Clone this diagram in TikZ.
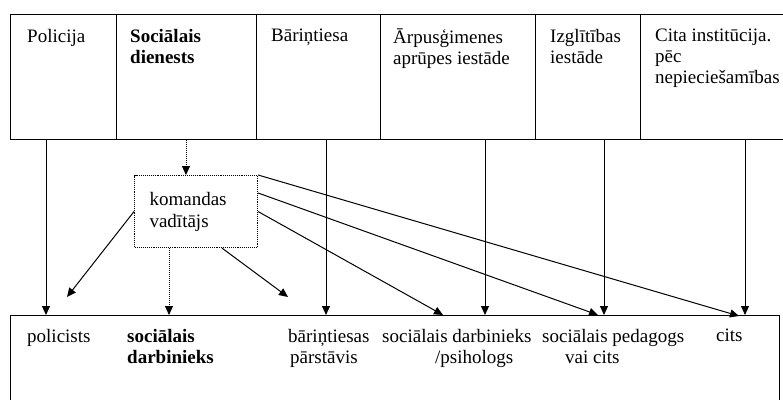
\documentclass[tikz,border=0pt]{standalone}
\usepackage{fontspec}
\setmainfont{Liberation Serif}
\usetikzlibrary{arrows.meta}

\begin{document}
\begin{tikzpicture}[x=1pt,y=-1pt,
    cell/.style={draw, line width=1.1pt, minimum height=125pt, anchor=north west, inner sep=0pt},
    txt/.style={anchor=north west, inner sep=0pt, align=left, font=\fontsize{19}{21}\selectfont},
    arr/.style={-{Triangle[length=9pt,width=8pt]}, line width=1pt}]
    \useasboundingbox (0,0) rectangle (783,399);
    % upper row of institutions
    \node[cell, minimum width=106pt] (policija) at (10,14) {};
    \node[cell, minimum width=140pt] (socdien) at (116,14) {};
    \node[cell, minimum width=124pt] (barint) at (256,14) {};
    \node[cell, minimum width=155pt] (arpus) at (380,14) {};
    \node[cell, minimum width=105pt] (izgl) at (535,14) {};
    \node[cell, minimum width=160pt] (cita) at (640,14) {};
    \node[txt] (policijaT) at ([shift={(17,15)}]policija.north west) {Policija};
    \node[txt] (socdienT) at ([shift={(14,15)}]socdien.north west) {\textbf{Sociālais}\\\textbf{dienests}};
    \node[txt] (barintT) at ([shift={(15,15)}]barint.north west) {Bāriņtiesa};
    \node[txt] (arpusT) at ([shift={(13,15)}]arpus.north west) {Ārpusģimenes\\aprūpes iestāde};
    \node[txt] (izglT) at ([shift={(15,15)}]izgl.north west) {Izglītības\\iestāde};
    \node[txt] (citaT) at ([shift={(15,15)}]cita.north west) {Cita institūcija.\\pēc\\nepieciešamības};
    % team leader
    \node[draw, densely dotted, line width=1.1pt, anchor=north west, minimum height=72pt,
          text width=93pt, inner xsep=15pt, inner ysep=0pt, align=left,
          font=\fontsize{19}{22}\selectfont] (komandas) at (134,175) {komandas\\vadītājs};
    % lower row of team members
    \node[cell, minimum width=769pt, minimum height=100pt] (lower) at (10,315) {};
    \node[txt] (policists) at ([shift={(17,14)}]lower.north west) {policists};
    \node[txt] (socdarb) at ([shift={(117,14)}]lower.north west) {\textbf{sociālais}\\\textbf{darbinieks}};
    \node[txt] (barpar) at ([shift={(278,14)}]lower.north west) {bāriņtiesas\\\hspace*{2pt}pārstāvis};
    \node[txt] (psih) at ([shift={(372,14)}]lower.north west) {sociālais darbinieks\\\hspace*{53pt}/psihologs};
    \node[txt] (pedag) at ([shift={(532,14)}]lower.north west) {sociālais pedagogs\\\hspace*{23pt}vai cits};
    \node[txt] (cits) at ([shift={(706,14)}]lower.north west) {cits};
    % start points
    \coordinate (a1) at ([xshift=36pt]policija.south west);
    \coordinate (a2) at ([xshift=70pt]socdien.south west);
    \coordinate (a3) at ([xshift=70pt]barint.south west);
    \coordinate (a4) at ([xshift=105pt]arpus.south west);
    \coordinate (a5) at ([xshift=69pt]izgl.south west);
    \coordinate (a6) at ([xshift=105pt]cita.south west);
    \coordinate (k2) at ([xshift=35pt]komandas.south west);
    \coordinate (k3) at ([xshift=88pt]komandas.south west);
    \coordinate (k5) at ([yshift=-18pt]komandas.north east);
    % free ends
    \coordinate (e1) at (67,297);
    \coordinate (e3) at (288,297);
    \coordinate (e4) at (443,315);
    \coordinate (e5) at (598,315);
    \coordinate (e6) at (739,316);
    % arrows
    \draw[arr] (a1) -- (a1 |- lower.north);
    \draw[arr, densely dotted] (a2) -- (a2 |- komandas.north);
    \draw[arr] (a3) -- (a3 |- lower.north);
    \draw[arr] (a4) -- (a4 |- lower.north);
    \draw[arr] (a5) -- (a5 |- lower.north);
    \draw[arr] (a6) -- (a6 |- lower.north);
    \draw[arr] (komandas.west) -- (e1);
    \draw[arr, densely dotted] (k2) -- (k2 |- lower.north);
    \draw[arr] (k3) -- (e3);
    \draw[arr] (komandas.east) -- (e4);
    \draw[arr] (k5) -- (e5);
    \draw[arr] (komandas.north east) -- (e6);
\end{tikzpicture}
\end{document}
